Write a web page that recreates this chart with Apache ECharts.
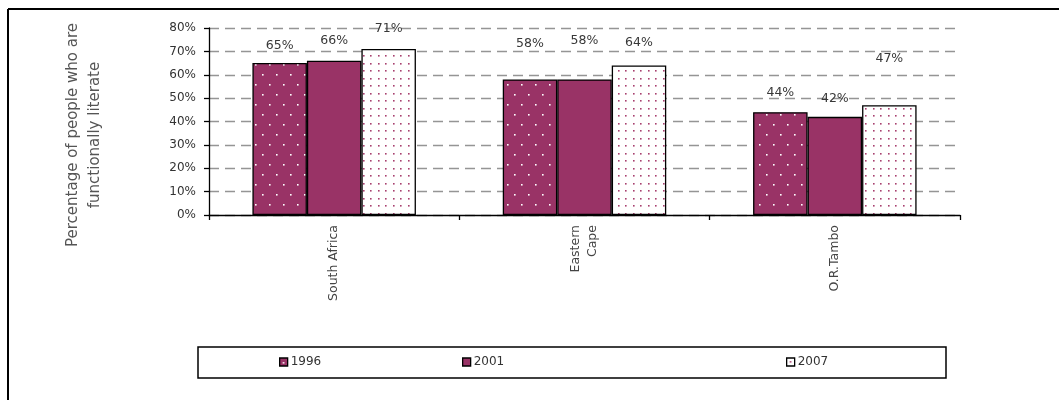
<!DOCTYPE html>
<html>
<head>
<meta charset="utf-8">
<script src="https://cdn.jsdelivr.net/npm/echarts@6/dist/echarts.min.js"></script>
<style>
  html, body { margin: 0; padding: 0; background: #fff; }
  #chart { width: 1059px; height: 400px; }
</style>
</head>
<body>
<div id="chart"></div>
<script>
// Functional literacy by area and census year
var categories = ['South Africa', 'Eastern\nCape', 'O.R.Tambo'];
var years = ['1996', '2001', '2007'];
var values1996 = [65, 58, 44];
var values2001 = [66, 58, 42];
var values2007 = [71, 64, 47];
var yTicks = [0, 10, 20, 30, 40, 50, 60, 70, 80];

// extra lift (px) of each value label above its bar
var labelLift1996 = [11, 29, 13];
var labelLift2001 = [13, 32, 12];
var labelLift2007 = [14, 16, 40];

var PLUM = '#993366';
var FONT = 'DejaVu Sans';

function dotPattern(bg, dot, w, h, pts, r) {
  var c = document.createElement('canvas');
  c.width = w; c.height = h;
  var g = c.getContext('2d');
  g.fillStyle = bg; g.fillRect(0, 0, w, h);
  g.fillStyle = dot;
  pts.forEach(function (p) { g.fillRect(p[0], p[1], r, r); });
  return { image: c, repeat: 'repeat' };
}

var fill1996 = dotPattern(PLUM, '#ffffff', 14, 20, [[3, 4], [10, 14]], 1.6);
var fill2001 = PLUM;
var fill2007 = dotPattern('#ffffff', '#a8406f', 15, 15, [[3, 3], [10, 3], [3, 10], [10, 10]], 1.6);

function makeSeries(name, vals, lifts, fill) {
  return {
    name: name,
    type: 'bar',
    barWidth: 54.5,
    barGap: '0%',
    itemStyle: { color: fill, borderColor: '#000', borderWidth: 1.3 },
    data: vals.map(function (v, i) {
      return { value: v, label: { distance: lifts[i] } };
    }),
    label: {
      show: true,
      position: 'top',
      formatter: '{c}%',
      fontFamily: FONT,
      fontSize: 12.5,
      color: '#383838'
    }
  };
}

var chart = echarts.init(document.getElementById('chart'), null, { renderer: 'canvas' });

function legendAt(name, x) {
  return {
    data: [name],
    left: x,
    top: 356,
    icon: 'rect',
    itemWidth: 8,
    itemHeight: 8,
    itemGap: 0,
    padding: 0,
    selectedMode: false,
    itemStyle: { borderColor: '#000', borderWidth: 1.3 },
    textStyle: { fontFamily: FONT, fontSize: 12, color: '#333', padding: [0, 0, 0, -2] }
  };
}

chart.setOption({
  animation: false,
  backgroundColor: '#fff',
  grid: { left: 209, right: 99, top: 28, bottom: 185, containLabel: false },
  xAxis: {
    type: 'category',
    data: categories,
    axisLine: { lineStyle: { color: '#000', width: 1.3 } },
    axisTick: { show: true, length: 5, lineStyle: { color: '#000', width: 1.3 } },
    axisLabel: {
      rotate: 90,
      margin: 10,
      fontFamily: FONT,
      fontSize: 12.5,
      color: '#444',
      lineHeight: 17
    }
  },
  yAxis: {
    type: 'value',
    min: yTicks[0],
    max: yTicks[yTicks.length - 1],
    interval: 10,
    axisLine: { show: true, lineStyle: { color: '#000', width: 1.3 } },
    axisTick: { show: true, length: 5, lineStyle: { color: '#000', width: 1.3 } },
    axisLabel: {
      formatter: '{value}%',
      margin: 13,
      fontFamily: FONT,
      fontSize: 12,
      color: '#333'
    },
    splitLine: { show: true, lineStyle: { color: '#959595', width: 1.4, type: [10, 6] } }
  },
  legend: [
    legendAt(years[0], 279),
    legendAt(years[1], 462),
    legendAt(years[2], 786)
  ],
  series: [
    makeSeries(years[0], values1996, labelLift1996, fill1996),
    makeSeries(years[1], values2001, labelLift2001, fill2001),
    makeSeries(years[2], values2007, labelLift2007, fill2007)
  ],
  graphic: [
    // outer frame (top and left edges)
    { type: 'line', shape: { x1: 8, y1: 9, x2: 1059, y2: 9 }, style: { stroke: '#000', lineWidth: 2 } },
    { type: 'line', shape: { x1: 8, y1: 9, x2: 8, y2: 400 }, style: { stroke: '#000', lineWidth: 2 } },
    // legend box
    { type: 'rect', shape: { x: 198, y: 347, width: 748, height: 31 }, style: { fill: 'none', stroke: '#000', lineWidth: 1.5 }, z: 0 },
    // y axis title
    {
      type: 'text',
      x: 84, y: 135,
      rotation: Math.PI / 2,
      style: {
        text: 'Percentage of people who are\nfunctionally literate',
        fontFamily: FONT,
        fontSize: 15,
        lineHeight: 22,
        fill: '#555',
        align: 'center',
        verticalAlign: 'middle'
      }
    }
  ]
});
</script>
</body>
</html>
